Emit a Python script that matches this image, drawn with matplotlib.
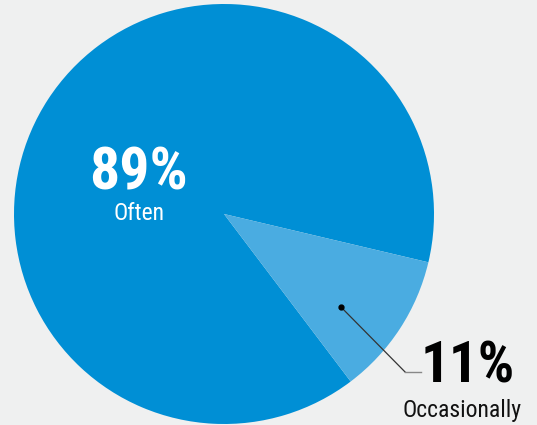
import matplotlib.pyplot as plt
from matplotlib import font_manager

labels = ["Often", "Occasionally"]
shares = [89, 11]
colors = ["#008fd5", "#4aace1"]

names = {f.name for f in font_manager.fontManager.ttflist}
cond = [n for n in ["Roboto Condensed", "Liberation Sans Narrow", "Open Sans Condensed"] if n in names]
family = cond + ["DejaVu Sans"]

bg = "#eff0f0"
fig = plt.figure(figsize=(5.37, 4.25), dpi=100, facecolor=bg)
ax = fig.add_axes([14 / 537, 1 / 425, 420 / 537, 420 / 425])
ax.set_facecolor(bg)

ax.pie(shares, colors=colors, startangle=-13.3, counterclock=True,
       radius=1, wedgeprops=dict(linewidth=0))
ax.set_xlim(-1, 1)
ax.set_ylim(-1, 1)
ax.set_aspect("equal")
ax.axis("off")

# big label inside the large slice
ax.text(-0.405, 0.195, f"{shares[0]}%", color="white", fontsize=43, fontweight="bold",
        ha="center", va="center", family=family)
ax.text(-0.405, -0.0, labels[0], color="white", fontsize=17,
        ha="center", va="center", family=family)

# leader line for the small slice
ax.plot([0.557, 0.862], [-0.443, -0.752], color="#333333", lw=0.9, clip_on=False)
ax.plot([0.862, 0.94], [-0.752, -0.752], color="#888888", lw=1.0, clip_on=False)
ax.plot([0.557], [-0.443], "o", color="black", ms=3.5, clip_on=False)
ax.text(1.16, -0.73, f"{shares[1]}%", color="black", fontsize=41, fontweight="bold",
        ha="center", va="center", family=family, clip_on=False)
ax.text(1.136, -0.935, labels[1], color="#111111", fontsize=17,
        ha="center", va="center", family=family, clip_on=False)

fig.savefig("out.png", dpi=100, facecolor=bg)
